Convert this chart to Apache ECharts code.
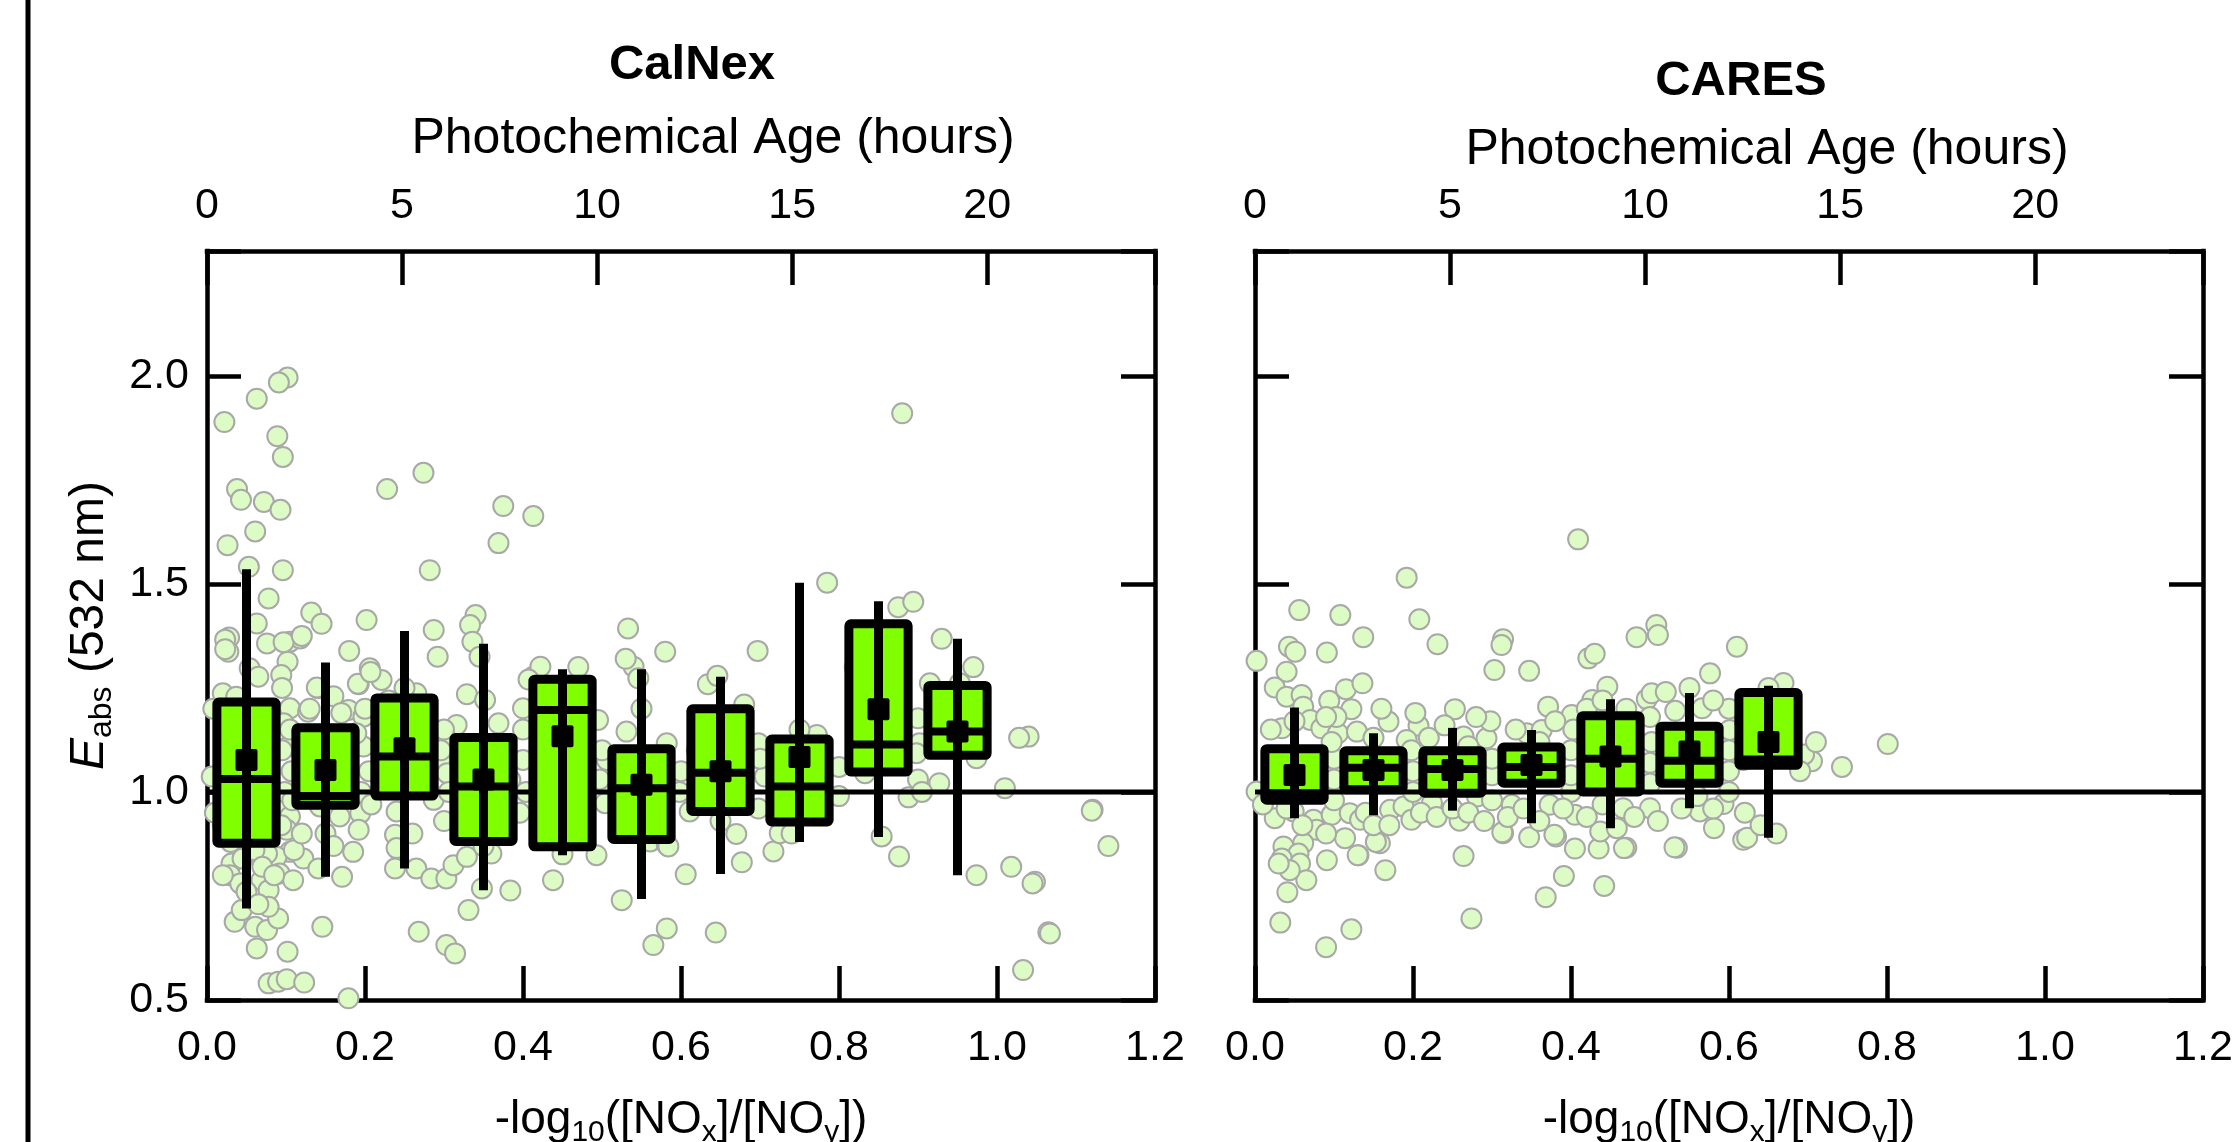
<!DOCTYPE html>
<html>
<head>
<meta charset="utf-8">
<title>Eabs vs photochemical age - CalNex / CARES</title>
<script src="https://cdn.jsdelivr.net/npm/echarts@6/dist/echarts.min.js"></script>
<style>
  html, body { margin: 0; padding: 0; background: #fff; }
  #chart { width: 2239px; height: 1142px; }
</style>
</head>
<body>
<div id="chart"></div>
<script>
// axis ranges
const eAbsRange = [0.5, 2.3]
const noxRange = [0, 1.2]
const ageRange = [0, 24.3]
const refLine = [[0, 1.0], [1.2, 1.0]]

// CalNex bin statistics (x = -log10(NOx/NOy) bin centre)
const calnexBinX = [0.05, 0.15, 0.25, 0.35, 0.45, 0.55, 0.65, 0.75, 0.85, 0.95]
const calnexLow = [0.72, 0.796, 0.816, 0.764, 0.848, 0.743, 0.803, 0.88, 0.892, 0.80]
const calnexQ1 = [0.877, 0.968, 0.99, 0.881, 0.868, 0.886, 0.953, 0.928, 1.048, 1.088]
const calnexMedian = [1.031, 0.99, 1.085, 1.013, 1.197, 1.009, 1.046, 1.013, 1.114, 1.145]
const calnexQ3 = [1.216, 1.154, 1.226, 1.131, 1.271, 1.104, 1.20, 1.127, 1.404, 1.256]
const calnexHigh = [1.535, 1.311, 1.387, 1.356, 1.295, 1.295, 1.277, 1.503, 1.458, 1.368]
const calnexMean = [1.077, 1.053, 1.105, 1.03, 1.134, 1.017, 1.05, 1.084, 1.199, 1.145]

// CARES bin statistics
const caresBinX = [0.05, 0.15, 0.25, 0.35, 0.45, 0.55, 0.65]
const caresLow = [0.937, 0.944, 0.955, 0.925, 0.913, 0.961, 0.89]
const caresQ1 = [0.98, 1.005, 0.997, 1.021, 1.0, 1.021, 1.064]
const caresMedian = [0.997, 1.058, 1.055, 1.06, 1.08, 1.075, 1.078]
const caresQ3 = [1.104, 1.099, 1.099, 1.108, 1.183, 1.158, 1.239]
const caresHigh = [1.203, 1.141, 1.154, 1.149, 1.223, 1.238, 1.255]
const caresMean = [1.041, 1.053, 1.053, 1.065, 1.085, 1.097, 1.12]

// individual measurements [x, Eabs]
const calnexPoints = [
  [0.102, 1.996], [0.091, 1.984], [0.063, 1.945], [0.022, 1.889], [0.089, 1.855], [0.096, 1.805],
  [0.038, 1.728], [0.043, 1.702], [0.072, 1.697], [0.093, 1.678], [0.061, 1.626], [0.026, 1.593],
  [0.228, 1.728], [0.274, 1.767], [0.375, 1.687], [0.413, 1.663], [0.369, 1.598], [0.053, 1.541],
  [0.096, 1.533], [0.282, 1.533], [0.88, 1.91],
  [0.078, 1.465], [0.132, 1.431], [0.145, 1.404], [0.202, 1.413], [0.063, 1.405], [0.028, 1.371],
  [0.027, 1.337], [0.076, 1.357], [0.105, 1.361], [0.118, 1.369], [0.287, 1.389], [0.34, 1.425],
  [0.333, 1.401], [0.336, 1.361], [0.345, 1.325], [0.292, 1.325], [0.18, 1.339], [0.102, 1.313],
  [0.054, 1.297], [0.065, 1.277], [0.094, 1.281], [0.206, 1.297], [0.192, 1.259], [0.221, 1.269],
  [0.141, 1.249], [0.02, 1.237], [0.037, 1.229], [0.105, 1.201], [0.128, 1.193], [0.179, 1.197],
  [0.198, 1.181], [0.265, 1.237], [0.329, 1.235], [0.352, 1.221], [0.413, 1.277], [0.422, 1.301],
  [0.40, 1.201], [0.495, 1.173], [0.533, 1.393], [0.58, 1.337], [0.54, 1.301], [0.546, 1.273],
  [0.531, 1.145], [0.582, 1.117], [0.369, 1.165], [0.316, 1.161], [0.304, 1.125], [0.40, 1.077],
  [0.006, 1.037], [0.097, 1.165], [0.103, 1.109], [0.198, 1.109], [0.189, 1.141], [0.295, 1.077],
  [0.304, 1.045], [0.287, 0.981], [0.384, 1.029], [0.506, 1.077], [0.51, 1.013], [0.504, 0.973],
  [0.097, 0.965], [0.105, 0.941], [0.101, 0.909], [0.143, 0.965], [0.168, 0.941], [0.194, 0.949],
  [0.192, 0.909], [0.24, 0.953], [0.238, 0.897], [0.24, 0.865], [0.185, 0.856], [0.105, 0.856],
  [0.088, 0.844], [0.076, 0.852], [0.031, 0.828], [0.029, 0.80], [0.042, 0.78], [0.069, 0.788],
  [0.078, 0.764], [0.092, 0.804], [0.109, 0.788], [0.122, 0.84], [0.141, 0.816], [0.171, 0.796],
  [0.238, 0.816], [0.265, 0.816], [0.284, 0.792], [0.303, 0.792], [0.312, 0.824], [0.329, 0.844],
  [0.36, 0.852], [0.348, 0.768], [0.384, 0.763], [0.438, 0.788], [0.493, 0.848], [0.525, 0.74],
  [0.561, 0.881], [0.582, 0.873], [0.331, 0.716], [0.035, 0.688], [0.061, 0.676], [0.076, 0.668],
  [0.09, 0.696], [0.078, 0.724], [0.044, 0.716], [0.063, 0.624], [0.102, 0.616], [0.146, 0.676],
  [0.268, 0.664], [0.303, 0.632], [0.314, 0.612], [0.582, 0.672], [0.565, 0.632], [0.078, 0.54],
  [0.09, 0.544], [0.101, 0.55], [0.123, 0.542], [0.179, 0.504],
  [0.697, 1.339], [0.634, 1.259], [0.646, 1.279], [0.785, 1.503], [0.875, 1.444], [0.894, 1.457],
  [0.93, 1.368], [0.915, 1.261], [0.953, 1.261], [0.90, 1.177], [0.902, 1.117], [0.898, 1.093],
  [0.974, 1.081], [0.698, 1.117], [0.772, 1.137], [0.706, 1.037], [1.04, 1.133], [0.927, 1.021],
  [1.01, 1.009], [0.888, 0.987], [0.833, 1.045], [0.611, 0.953], [0.584, 0.869], [0.67, 0.899],
  [0.717, 0.857], [0.725, 0.901], [0.606, 0.802], [0.677, 0.831], [0.854, 0.893], [0.876, 0.845],
  [0.974, 0.80], [1.018, 0.82], [1.048, 0.784], [1.121, 0.957], [1.141, 0.87], [0.644, 0.662],
  [1.065, 0.663], [1.033, 0.572],
  [0.023, 1.366], [0.023, 1.343], [0.097, 1.36], [0.12, 1.375], [0.139, 1.251], [0.191, 1.26],
  [0.207, 1.288], [0.407, 1.27], [0.53, 1.32],
  [0.008, 1.2], [0.01, 0.95], [0.095, 1.25], [0.105, 1.15], [0.095, 1.1], [0.107, 1.05], [0.098, 1.0],
  [0.108, 0.98], [0.094, 0.92], [0.2, 1.2], [0.205, 1.05], [0.195, 1.0], [0.208, 0.97], [0.3, 1.15],
  [0.296, 1.1], [0.306, 1.0], [0.3, 0.93], [0.4, 1.15], [0.404, 1.0], [0.396, 0.95], [0.5, 1.1],
  [0.497, 1.03], [0.6, 1.05], [0.598, 1.0], [0.7, 1.08], [0.698, 0.96], [0.8, 1.06], [0.8, 0.99],
  [0.9, 1.03], [0.905, 1.0],
  [0.02, 0.92], [0.03, 0.88], [0.045, 0.84], [0.06, 0.86], [0.07, 0.82], [0.085, 0.8], [0.02, 0.8],
  [0.05, 0.76], [0.065, 0.73], [0.11, 0.86], [0.12, 0.9], [0.15, 0.9], [0.16, 0.87], [0.13, 1.2],
  [0.16, 1.23], [0.17, 1.19], [0.25, 1.25], [0.23, 1.22], [0.27, 1.2], [0.26, 0.9], [0.33, 0.9],
  [0.35, 0.87], [0.45, 0.85], [0.43, 1.22], [0.47, 1.3], [0.55, 1.2], [0.62, 1.1], [0.65, 0.93],
  [0.68, 1.21], [0.75, 1.15], [0.74, 0.9], [0.82, 1.3], [0.86, 1.26], [0.95, 1.1], [0.94, 1.2],
  [0.97, 1.3],
  [1.028, 1.13], [1.12, 0.955], [1.045, 0.78], [1.067, 0.66]
]

const caresPoints = [
  [0.409, 1.607], [0.192, 1.515], [0.056, 1.437], [0.108, 1.425], [0.137, 1.372], [0.208, 1.415],
  [0.231, 1.355], [0.043, 1.349], [0.051, 1.337], [0.091, 1.335], [0.002, 1.315], [0.04, 1.289],
  [0.314, 1.367], [0.312, 1.353], [0.303, 1.293], [0.347, 1.291], [0.422, 1.321], [0.43, 1.332],
  [0.483, 1.372], [0.508, 1.401], [0.51, 1.377], [0.61, 1.349], [0.576, 1.285], [0.025, 1.251],
  [0.04, 1.229], [0.059, 1.233], [0.094, 1.219], [0.115, 1.247], [0.136, 1.261], [0.122, 1.199],
  [0.061, 1.205], [0.253, 1.199], [0.207, 1.159], [0.169, 1.169], [0.371, 1.205], [0.446, 1.253],
  [0.427, 1.221], [0.496, 1.223], [0.502, 1.237], [0.532, 1.195], [0.566, 1.201], [0.401, 1.185],
  [0.034, 1.153], [0.07, 1.173], [0.084, 1.153], [0.105, 1.141], [0.129, 1.145], [0.192, 1.125],
  [0.264, 1.133], [0.293, 1.129], [0.344, 1.141], [0.363, 1.149], [0.601, 1.149], [0.618, 1.077],
  [0.002, 1.001], [0.025, 0.937], [0.049, 0.953], [0.074, 0.933], [0.097, 0.945], [0.12, 0.949],
  [0.133, 0.933], [0.171, 0.957], [0.188, 0.965], [0.198, 0.933], [0.224, 0.973], [0.259, 0.931],
  [0.281, 0.989], [0.325, 0.969], [0.373, 0.969], [0.405, 0.945], [0.466, 0.961], [0.50, 0.961],
  [0.563, 0.953], [0.593, 0.971], [0.581, 0.913], [0.618, 0.885], [0.078, 0.909], [0.114, 0.889],
  [0.061, 0.877], [0.036, 0.869], [0.055, 0.852], [0.131, 0.848], [0.158, 0.877], [0.091, 0.836],
  [0.034, 0.84], [0.057, 0.828], [0.065, 0.788], [0.044, 0.812], [0.165, 0.812], [0.264, 0.846],
  [0.314, 0.901], [0.347, 0.891], [0.381, 0.893], [0.405, 0.864], [0.435, 0.864], [0.437, 0.905],
  [0.47, 0.866], [0.458, 0.913], [0.534, 0.866], [0.391, 0.798], [0.442, 0.774], [0.368, 0.747],
  [0.274, 0.696], [0.041, 0.759], [0.032, 0.686], [0.122, 0.67], [0.09, 0.627],
  [0.623, 0.89], [0.531, 0.867], [0.467, 0.865], [0.379, 0.897], [0.313, 0.903], [0.153, 0.88],
  [0.13, 0.848], [0.03, 0.828],
  [0.801, 1.115], [0.743, 1.06], [0.705, 1.074], [0.669, 1.262],
  [0.1, 0.98], [0.1, 1.03], [0.1, 1.08], [0.097, 1.12], [0.103, 1.18], [0.2, 1.0], [0.2, 1.05],
  [0.198, 1.1], [0.203, 1.19], [0.3, 0.98], [0.3, 1.04], [0.3, 1.08], [0.298, 1.17], [0.4, 1.0],
  [0.4, 1.04], [0.4, 1.1], [0.403, 1.15], [0.5, 1.02], [0.5, 1.07], [0.502, 1.12], [0.5, 1.18],
  [0.6, 1.0], [0.6, 1.05], [0.6, 1.1], [0.6, 1.2], [0.695, 1.09], [0.71, 1.12], [0.69, 1.05],
  [0.65, 1.25], [0.63, 1.22], [0.62, 1.17], [0.67, 1.15],
  [0.02, 1.15], [0.05, 1.17], [0.09, 1.18], [0.15, 1.13], [0.16, 1.2], [0.22, 1.13], [0.24, 1.16],
  [0.27, 1.11], [0.28, 1.18], [0.33, 1.15], [0.36, 1.12], [0.38, 1.17], [0.42, 1.2], [0.44, 1.22],
  [0.47, 1.2], [0.52, 1.24], [0.55, 1.25], [0.58, 1.22],
  [0.01, 0.97], [0.04, 0.96], [0.06, 0.92], [0.09, 0.9], [0.14, 0.95], [0.15, 0.92], [0.17, 0.92],
  [0.21, 0.95], [0.23, 0.94], [0.25, 0.96], [0.27, 0.95], [0.29, 0.93], [0.32, 0.94], [0.34, 0.96],
  [0.36, 0.93], [0.39, 0.96], [0.42, 0.94], [0.44, 0.97], [0.48, 0.94], [0.51, 0.93], [0.54, 0.96],
  [0.56, 0.99], [0.58, 0.96], [0.62, 0.95], [0.64, 0.92], [0.66, 0.9]
]

const FONT = 'Liberation Sans, Arial, sans-serif'
const BOX_HALF = 0.0375 // half box width, in x units

const calnexRows = calnexBinX.map((x, i) => [x, calnexLow[i], calnexQ1[i], calnexMedian[i], calnexQ3[i], calnexHigh[i], calnexMean[i]])
const caresRows = caresBinX.map((x, i) => [x, caresLow[i], caresQ1[i], caresMedian[i], caresQ3[i], caresHigh[i], caresMean[i]])

// box + whisker + median + mean square
function renderBox(params, api) {
  const x = api.value(0)
  const lo = api.coord([x, api.value(1)])
  const bl = api.coord([x - BOX_HALF, api.value(2)])
  const tr = api.coord([x + BOX_HALF, api.value(4)])
  const mL = api.coord([x - BOX_HALF, api.value(3)])
  const mR = api.coord([x + BOX_HALF, api.value(3)])
  const hi = api.coord([x, api.value(5)])
  const mean = api.coord([x, api.value(6)])
  return {
    type: 'group',
    children: [
      {
        type: 'rect',
        shape: { x: bl[0], y: tr[1], width: tr[0] - bl[0], height: bl[1] - tr[1], r: 2 },
        style: { fill: '#80ff00', stroke: '#000', lineWidth: 9, lineJoin: 'round' }
      },
      { type: 'line', shape: { x1: lo[0], y1: lo[1], x2: hi[0], y2: hi[1] }, style: { stroke: '#000', lineWidth: 9 } },
      { type: 'line', shape: { x1: mL[0], y1: mL[1], x2: mR[0], y2: mR[1] }, style: { stroke: '#000', lineWidth: 8 } },
      { type: 'rect', shape: { x: mean[0] - 11, y: mean[1] - 11, width: 22, height: 22, r: 2 }, style: { fill: '#000' } }
    ]
  }
}

const lineStyle = { color: '#000', width: 4.5, cap: 'square' }
const tickStyle = { color: '#000', width: 4.5 }
const fmtHalf = v => (Math.abs(v * 2 - Math.round(v * 2)) < 1e-6 ? v.toFixed(1) : '')
const fmtHour = v => (Math.abs(v % 5) < 1e-6 ? String(v) : '')

function bottomAxis(gridIndex) {
  return {
    gridIndex, type: 'value', position: 'bottom',
    min: noxRange[0], max: noxRange[1], interval: 0.2,
    axisLine: { show: true, onZero: false, lineStyle },
    axisTick: { show: true, inside: true, length: 34, lineStyle: tickStyle },
    axisLabel: { margin: 27, fontSize: 43, color: '#000', fontFamily: FONT, formatter: v => v.toFixed(1) },
    splitLine: { show: false },
    name: '-log{s|10}([NO{s|x}]/[NO{s|y}])',
    nameLocation: 'middle', nameGap: 92,
    nameTextStyle: {
      fontSize: 46, color: '#000', fontFamily: FONT, lineHeight: 56,
      rich: { s: { fontSize: 30, lineHeight: 24, verticalAlign: 'bottom', color: '#000', fontFamily: FONT } }
    }
  }
}

function topAxis(gridIndex) {
  return {
    gridIndex, type: 'value', position: 'top',
    min: ageRange[0], max: ageRange[1], interval: 5,
    axisLine: { show: true, onZero: false, lineStyle },
    axisTick: { show: true, inside: true, length: 34, lineStyle: tickStyle },
    axisLabel: { margin: 23, fontSize: 43, color: '#000', fontFamily: FONT, formatter: fmtHour },
    splitLine: { show: false }
  }
}

function sideAxis(gridIndex, position, withLabels) {
  const ax = {
    gridIndex, type: 'value', position,
    min: eAbsRange[0], max: eAbsRange[1], interval: 0.5,
    axisLine: { show: true, onZero: false, lineStyle },
    axisTick: { show: true, inside: true, length: 34, lineStyle: tickStyle },
    axisLabel: { show: withLabels, margin: 18, fontSize: 43, color: '#000', fontFamily: FONT, formatter: fmtHalf },
    splitLine: { show: false }
  }
  if (withLabels) {
    ax.name = '{e|E}{s|abs}{n| (532 nm)}'
    ax.nameLocation = 'middle'
    ax.nameRotate = 90
    ax.nameGap = 89
    ax.nameTextStyle = {
      color: '#000', fontFamily: FONT, lineHeight: 56,
      rich: {
        e: { fontSize: 48, fontStyle: 'italic', color: '#000', fontFamily: FONT, lineHeight: 56 },
        s: { fontSize: 32, lineHeight: 36, verticalAlign: 'bottom', color: '#000', fontFamily: FONT },
        n: { fontSize: 48, color: '#000', fontFamily: FONT, lineHeight: 56 }
      }
    }
  }
  return ax
}

function panelSeries(axisIndex, points, rows) {
  return [
    {
      type: 'scatter', xAxisIndex: axisIndex, yAxisIndex: axisIndex, data: points, z: 2,
      symbol: 'circle', symbolSize: 20,
      itemStyle: { color: '#ddfbc4', borderColor: '#a8a8a8', borderWidth: 2, opacity: 1 }
    },
    {
      type: 'line', xAxisIndex: axisIndex, yAxisIndex: axisIndex, data: refLine, z: 3,
      symbol: 'none', lineStyle: { color: '#000', width: 5 }
    },
    {
      type: 'custom', xAxisIndex: axisIndex, yAxisIndex: axisIndex, data: rows, z: 4,
      encode: { x: 0, y: [1, 2, 3, 4, 5, 6] },
      renderItem: renderBox
    }
  ]
}

const chart = echarts.init(document.getElementById('chart'), null, { renderer: 'canvas' })

const option = {
  animation: false,
  backgroundColor: '#fff',
  grid: [
    { left: 207, top: 251, width: 948, height: 749, outerBoundsMode: 'none', containLabel: false },
    { left: 1255, top: 251, width: 948, height: 749, outerBoundsMode: 'none', containLabel: false }
  ],
  xAxis: [bottomAxis(0), topAxis(0), bottomAxis(1), topAxis(1)],
  yAxis: [sideAxis(0, 'left', true), sideAxis(0, 'right', false), sideAxis(1, 'left', false), sideAxis(1, 'right', false)],
  graphic: [
    { type: 'line', shape: { x1: 28, y1: 0, x2: 28, y2: 1142 }, style: { stroke: '#000', lineWidth: 5 } },
    { type: 'text', x: 692, y: 65, style: { text: 'CalNex', font: 'bold 49px ' + FONT, fill: '#000', textAlign: 'center', textVerticalAlign: 'middle' } },
    { type: 'text', x: 1741, y: 81, style: { text: 'CARES', font: 'bold 49px ' + FONT, fill: '#000', textAlign: 'center', textVerticalAlign: 'middle' } },
    { type: 'text', x: 713, y: 139, style: { text: 'Photochemical Age (hours)', font: '50px ' + FONT, fill: '#000', textAlign: 'center', textVerticalAlign: 'middle' } },
    { type: 'text', x: 1767, y: 150, style: { text: 'Photochemical Age (hours)', font: '50px ' + FONT, fill: '#000', textAlign: 'center', textVerticalAlign: 'middle' } }
  ],
  series: [
    ...panelSeries(0, calnexPoints, calnexRows),
    ...panelSeries(2, caresPoints, caresRows)
  ]
}

chart.setOption(option)
window.addEventListener('resize', () => chart.resize())
</script>
</body>
</html>
